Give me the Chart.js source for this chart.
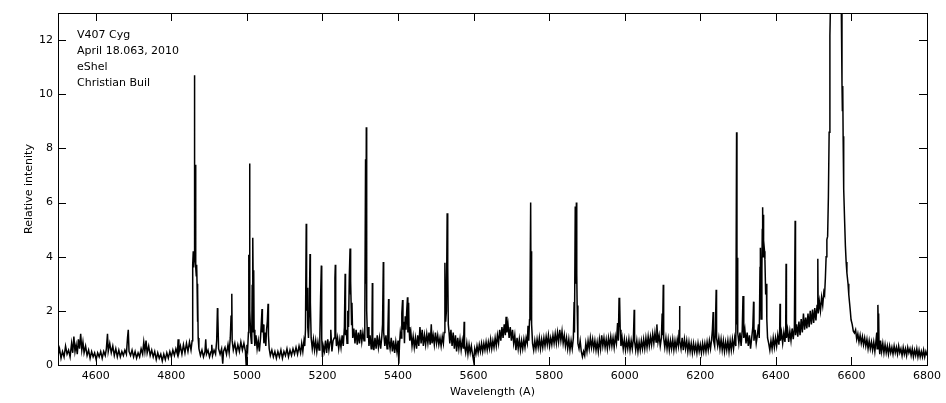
<!DOCTYPE html>
<html>
<head>
<meta charset="utf-8">
<script src="https://cdn.jsdelivr.net/npm/chart.js@4/dist/chart.umd.min.js"></script>
<style>
  html, body { margin: 0; padding: 0; background: #fff; }
  #wrap { width: 946px; height: 403px; position: relative; }
</style>
</head>
<body>
<div id="wrap"><canvas id="spectrum"></canvas></div>
<script>
// wavelength (A), relative intensity
const blueSpectrum = [
  [4500,.35],[4504,.6],[4508,.25],[4512,.5],[4516,.3],[4520,.7],[4524,.4],[4528,.55],[4532,.3],[4536,.8],
  [4539,.45],[4542,1.05],[4545,.5],[4548,.75],[4551,.4],[4554,.95],[4557,.6],[4560,1.15],[4563,.55],[4566,.85],
  [4569,.45],[4573,.7],[4577,.35],[4581,.55],[4585,.25],[4589,.5],[4593,.3],[4597,.45],[4601,.2],[4605,.45],
  [4609,.3],[4613,.5],[4617,.25],[4621,.5],[4625,.35],[4628,.6],[4631,1.15],[4633,.5],[4637,.8],[4641,.45],
  [4645,.7],[4649,.35],[4653,.6],[4657,.3],[4661,.55],[4665,.3],[4669,.5],[4673,.35],[4677,.55],[4681,.4],
  [4684,1.0],[4686,1.3],[4688,.5],[4692,.35],[4696,.55],[4700,.3],[4704,.5],[4708,.25],[4712,.45],[4716,.3],
  [4720,.6],[4724,.4],[4727,.85],[4730,.5],[4733,.9],[4736,.45],[4740,.7],[4744,.35],[4748,.55],[4752,.3],
  [4756,.5],[4760,.2],[4764,.45],[4768,.25],[4772,.4],[4776,.15],[4780,.4],[4784,.2],[4788,.45],[4792,.25],
  [4796,.5],[4800,.3],[4804,.55],[4808,.35],[4812,.6],[4816,.4],[4818,.95],[4820,.45],[4824,.7],[4828,.4],
  [4832,.75],[4836,.45],[4840,.8],[4844,.5],[4848,.85],[4852,.55],[4855,.9],[4856,3.0],[4857,3.7],[4858,4.2],
  [4859,3.6],[4860,4.0],[4861,10.7],[4862,3.8],[4863,4.0],[4864,7.4],[4865,3.6],[4866,3.3],[4867,3.7],[4868,3.0],
  [4869,1.6],[4870,2.8],[4871,1.0],[4873,.6]
];

const greenSpectrum = [
  [4877,.35],[4881,.55],[4885,.3],[4889,.5],[4891,.95],[4893,.4],[4897,.55],[4901,.3],[4905,.5],[4907,.75],
  [4909,.35],[4913,.55],[4917,.4],[4920,.9],[4922,2.1],[4923,1.85],[4925,.6],[4929,.4],[4933,.6],[4936,.05],
  [4938,.5],[4942,.65],[4946,.4],[4950,.75],[4953,.45],[4956,1.0],[4958,1.8],[4960,2.63],[4961,.9],[4964,.55],
  [4968,.8],[4972,.45],[4976,.75],[4980,.5],[4984,.85],[4988,.55],[4992,.8],[4996,.5],[4998,.0],[5000,.75],
  [5002,.6],[5004,1.2],[5005,4.07],[5006,3.0],[5007,7.44],[5008,2.0],[5010,1.1],[5012,.8],[5013,1.37],[5014,2.96],
  [5015,1.2],[5016,4.7],[5017,2.26],[5018,3.5],[5019,1.3],[5021,.7],[5024,1.1],[5027,.6],[5030,.9],[5033,.5],
  [5036,1.0],[5038,1.5],[5040,2.07],[5041,1.2],[5043,1.5],[5045,.8],[5048,1.2],[5050,.7],[5052,1.3],[5054,1.6],
  [5056,2.26],[5057,1.1],[5059,.6],[5062,.35],[5066,.55],[5070,.3],[5074,.5],[5078,.25],[5082,.5],[5086,.3],
  [5090,.55],[5094,.25],[5098,.5],[5102,.35],[5106,.6],[5110,.3],[5114,.55],[5118,.35],[5122,.6],[5126,.4],
  [5130,.65],[5134,.4],[5138,.7],[5142,.45],[5145,.8],[5148,.5],[5151,.9],[5153,.7],[5155,1.3],[5157,5.22],
  [5158,2.0],[5160,2.85],[5161,1.4],[5163,1.0],[5165,1.9],[5167,4.1],[5168,2.3],[5170,1.0],[5173,.6],[5176,.95],
  [5179,.55],[5182,.9],[5185,.5],[5188,.85],[5191,.55],[5193,1.0],[5195,2.5],[5197,3.67],[5198,1.0],[5200,.3],
  [5202,.7],[5205,.5],[5208,.9],[5211,.45],[5214,.95],[5217,.55],[5220,.85],[5222,1.3],[5225,.5],[5228,.9],
  [5231,1.0],[5233,3.2],[5234,3.7],[5235,1.2],[5237,.7],[5240,1.0],[5243,.6],[5246,.95],[5249,.65],[5252,1.1],
  [5255,.7],[5258,1.4],[5260,3.37],[5261,1.1],[5263,1.3],[5265,.8],[5267,2.0],[5269,1.4],[5271,3.26],[5273,4.3],
  [5274,2.6],[5275,3.1],[5277,1.5],[5278,2.3],[5280,1.0],[5283,1.35],[5286,.8],[5289,1.3],[5292,.75],[5295,1.2],
  [5298,.8],[5301,1.3],[5304,.85],[5307,1.2],[5310,.9],[5312,1.5],[5314,7.6],[5315,3.0],[5316,8.78],[5317,2.0],
  [5319,1.0],[5321,1.4],[5323,.7],[5326,1.1],[5329,.6],[5331,1.3],[5332,3.03],[5333,1.0],[5336,.55],[5339,1.0],
  [5342,.6],[5345,1.1],[5348,.65],[5351,1.0],[5354,.6],[5357,1.05],[5359,1.5],[5361,3.8],[5362,1.2],[5365,.7],
  [5368,1.1],[5371,.6],[5373,1.2],[5375,2.44],[5376,.9],[5379,.6],[5382,1.0],[5385,.5],[5388,.9],[5391,.45],
  [5394,.85],[5397,.5]
];

const yellowSpectrum = [
  [5400,.9],[5402,.05],[5404,.8],[5406,1.2],[5408,1.0],[5410,1.9],[5412,2.4],[5413,1.3],[5415,1.6],[5417,.8],
  [5419,1.8],[5421,1.3],[5423,2.0],[5425,2.5],[5426,1.2],[5428,2.3],[5429,1.4],[5431,.9],[5434,1.2],[5437,.7],
  [5440,1.05],[5443,.65],[5446,1.0],[5449,.6],[5452,1.1],[5455,.7],[5458,1.4],[5461,.8],[5464,1.3],[5467,.7],
  [5470,1.1],[5473,.75],[5476,1.15],[5479,.8],[5482,1.2],[5485,.75],[5488,1.5],[5490,.8],[5493,1.1],[5496,.75],
  [5499,1.2],[5502,.8],[5505,1.1],[5508,.75],[5511,1.0],[5514,.7],[5517,1.05],[5520,.8],[5522,1.2],[5524,3.78],
  [5526,1.6],[5528,2.0],[5530,5.6],[5531,3.0],[5532,3.6],[5533,1.5],[5535,1.2],[5537,.8],[5540,1.3],[5543,.7],
  [5546,1.2],[5549,.6],[5552,1.1],[5555,.5],[5558,1.0],[5561,.6],[5564,.95],[5567,.55],[5570,.9],[5573,.6],
  [5575,1.6],[5576,.7],[5579,.45],[5582,.8],[5585,.4],[5588,.75],[5591,.45],[5594,.7],[5597,.4],[5600,.15],
  [5603,.6],[5606,.4],[5609,.7],[5612,.45],[5615,.75],[5618,.5],[5621,.8],[5624,.5],[5627,.8],[5630,.55],
  [5633,.85],[5636,.55],[5639,.85],[5642,.6],[5645,.95],[5648,.6],[5651,.9],[5654,.65],[5657,1.0],[5660,.7],
  [5663,1.1],[5666,.8],[5669,1.3],[5672,.9],[5675,1.4],[5678,1.0],[5681,1.5],[5684,1.1],[5686,1.78],[5688,1.2],
  [5691,1.5],[5694,1.0],[5697,1.4],[5700,.9],[5703,1.3],[5706,.8],[5709,1.1],[5712,.55],[5715,1.0],[5718,.6],
  [5721,.95],[5724,.55],[5727,.9],[5730,.6],[5733,.95],[5736,.65],[5739,1.0],[5742,.8],[5744,1.45],[5746,.9],
  [5748,1.67],[5749,2.0],[5751,6.0],[5752,2.2],[5753,4.2],[5754,1.5],[5756,.8],[5759,.55],[5762,.9],[5765,.6],
  [5768,.95],[5771,.65],[5774,1.0],[5777,.6],[5780,.95],[5783,.65],[5786,1.0],[5789,.7],[5792,1.05],[5795,.75],
  [5798,1.1],[5801,.7],[5804,1.0],[5807,.75],[5810,1.1],[5813,.8],[5816,1.15],[5819,.8],[5822,1.2],[5825,.85],
  [5828,1.3],[5831,.9],[5834,1.25],[5837,.8],[5840,1.1],[5843,.7],[5846,1.0],[5849,.6],[5852,.95],[5855,.55],
  [5858,.9],[5861,.6],[5864,1.0],[5866,2.33],[5867,1.2],[5869,5.85],[5870,3.0],[5872,6.0],[5873,3.37],[5874,2.2],
  [5876,.8],[5879,.6],[5882,.9],[5885,.5],[5888,.3],[5891,.5],[5894,.35],[5897,.8]
];

const orangeSpectrum = [
  [5900,.5],[5903,.9],[5906,.6],[5909,1.0],[5912,.65],[5915,.95],[5918,.6],[5921,.9],[5924,.55],[5927,.85],
  [5930,.5],[5933,.95],[5936,.6],[5939,1.1],[5942,.7],[5945,1.0],[5948,.65],[5951,.95],[5954,.6],[5957,1.0],
  [5960,.7],[5963,1.05],[5966,.7],[5969,1.0],[5972,.65],[5975,1.05],[5978,.8],[5981,1.55],[5983,.9],[5985,2.48],
  [5986,1.4],[5987,2.4],[5988,1.3],[5990,.7],[5993,1.0],[5996,.6],[5999,.95],[6002,.55],[6005,.9],[6008,.6],
  [6011,.95],[6014,.55],[6017,.9],[6020,.6],[6023,1.0],[6025,2.04],[6026,.9],[6029,.55],[6032,.9],[6035,.5],
  [6038,.85],[6041,.55],[6044,.9],[6047,.6],[6050,.95],[6053,.6],[6056,1.0],[6059,.65],[6062,1.05],[6065,.7],
  [6068,1.05],[6071,.75],[6074,1.15],[6077,.8],[6080,1.2],[6083,.85],[6085,1.5],[6088,.85],[6091,1.1],[6094,.7],
  [6097,1.0],[6099,1.9],[6100,1.1],[6102,2.96],[6103,1.0],[6106,.65],[6109,1.0],[6112,.6],[6115,.95],[6118,.55],
  [6121,.9],[6124,.6],[6127,.95],[6130,.55],[6133,.9],[6136,.6],[6139,.95],[6142,.7],[6144,1.3],[6145,2.18],
  [6146,.9],[6149,.6],[6152,1.0],[6155,.55],[6158,.95],[6161,.6],[6164,.9],[6167,.5],[6170,.85],[6173,.5],
  [6176,.8],[6179,.45],[6182,.8],[6185,.5],[6188,.75],[6191,.45],[6194,.8],[6197,.5],[6200,.75],[6203,.45],
  [6206,.8],[6209,.5],[6212,.8],[6215,.5],[6218,.85],[6221,.55],[6224,.9],[6227,.6],[6230,.95],[6232,1.3],
  [6234,1.96],[6235,.9],[6238,.7],[6240,1.4],[6242,2.78],[6243,1.0],[6246,.7],[6249,1.0],[6252,.6],[6255,.95],
  [6258,.55],[6261,.9],[6264,.5],[6267,.85],[6270,.55],[6273,.9],[6276,.5],[6279,.9],[6282,.55],[6285,.95],
  [6288,.6],[6291,1.0],[6294,.7],[6296,8.6],[6297,1.5],[6298,3.96],[6299,1.2]
];

const redSpectrum = [
  [6302,.8],[6305,1.2],[6308,.7],[6311,1.3],[6313,2.55],[6315,1.0],[6318,1.3],[6321,.8],[6324,1.2],[6327,.7],
  [6330,1.1],[6333,.6],[6336,1.0],[6339,1.4],[6341,2.34],[6342,.9],[6345,1.3],[6348,.8],[6351,1.1],[6354,1.5],
  [6356,1.0],[6358,3.6],[6359,4.33],[6361,1.7],[6363,3.5],[6364,5.0],[6365,5.83],[6366,4.0],[6367,5.55],[6368,4.6],
  [6370,4.2],[6371,3.9],[6373,2.6],[6375,3.0],[6376,1.7],[6378,1.0],[6381,.8],[6384,.55],[6387,.9],[6390,.6],
  [6393,1.0],[6396,.65],[6399,1.0],[6402,.7],[6405,1.1],[6408,.75],[6410,1.2],[6411,2.26],[6412,.9],[6415,1.2],
  [6418,.8],[6421,1.2],[6424,.85],[6426,1.3],[6427,3.74],[6428,1.0],[6431,1.3],[6434,.85],[6437,1.25],[6440,.9],
  [6443,1.35],[6446,.95],[6449,1.4],[6451,5.33],[6452,1.1],[6455,1.5],[6458,1.05],[6461,1.6],[6464,1.1],[6467,1.7],
  [6470,1.2],[6473,1.9],[6476,1.3],[6479,1.75],[6482,1.35],[6485,1.9],[6488,1.4],[6491,2.0],[6494,1.5],[6497,2.05],
  [6500,1.55],[6503,2.1],[6506,1.65],[6509,2.2],[6511,3.92],[6512,1.9],[6515,2.35],[6518,2.0],[6521,2.5],[6524,2.2],
  [6527,2.7],[6529,2.6],[6531,3.2],[6533,4.0],[6535,4.63],[6537,4.75],[6539,6.2],[6541,8.6],[6543,12.15],[6546,14.5],
  [6552,19],[6562,22],[6570,16],[6573,13.5],[6575,10.4],[6576,9.4],[6577,10.3],[6578,8.45],[6579,8.3],[6580,6.5],
  [6582,5.3],[6584,4.4],[6586,3.8],[6588,3.4],[6591,3.0],[6593,2.6],[6595,2.3],[6597,2.0],[6599,1.67],[6602,1.5],
  [6605,1.25],[6608,1.18],[6611,1.3],[6614,.95],[6617,1.15],[6620,.85],[6623,1.1],[6626,.8],[6629,1.05],[6632,.75],
  [6635,1.0],[6638,.7],[6641,.95],[6644,.6],[6647,.9],[6650,.6],[6653,.85],[6656,.55],[6659,.85],[6662,.5],
  [6665,.9],[6667,1.2],[6668,.6],[6670,2.22],[6671,1.5],[6672,1.9],[6673,.8],[6675,.4],[6677,.9],[6680,.5],
  [6683,.8],[6686,.45],[6689,.75],[6692,.45],[6695,.7],[6698,.4],[6701,.7],[6704,.45],[6707,.65],[6710,.4],
  [6713,.7],[6716,.45],[6719,.65],[6722,.4],[6725,.7],[6728,.45],[6731,.6],[6734,.35],[6737,.65],[6740,.4],
  [6743,.6],[6746,.35],[6749,.65],[6752,.45],[6755,.6],[6758,.35],[6761,.6],[6764,.3],[6767,.55],[6770,.35],
  [6773,.6],[6776,.3],[6779,.55],[6782,.3],[6785,.5],[6788,.3],[6791,.55],[6794,.3],[6797,.5],[6800,.35]
];

const xTicks = [4600, 4800, 5000, 5200, 5400, 5600, 5800, 6000, 6200, 6400, 6600, 6800];
const yTicks = [0, 2, 4, 6, 8, 10, 12];
const noteLines = ['V407 Cyg', 'April 18.063, 2010', 'eShel', 'Christian Buil'];

const FONT = { family: '"DejaVu Sans", sans-serif', size: 11 };

// MATLAB 스타일 박스 + 안쪽 눈금 + 주석
const boxPlugin = {
  id: 'boxPlugin',
  afterDraw(chart) {
    const { ctx, chartArea: a, scales: { x, y } } = chart;
    const tick = 8;
    ctx.save();
    ctx.strokeStyle = '#000';
    ctx.lineWidth = 1;
    ctx.strokeRect(a.left + 0.5, a.top + 0.5, a.right - a.left, a.bottom - a.top);
    ctx.beginPath();
    xTicks.forEach(v => {
      const px = Math.round(x.getPixelForValue(v)) + 0.5;
      ctx.moveTo(px, a.bottom); ctx.lineTo(px, a.bottom - tick);
      ctx.moveTo(px, a.top); ctx.lineTo(px, a.top + tick);
    });
    yTicks.forEach(v => {
      const py = Math.round(y.getPixelForValue(v)) + 0.5;
      ctx.moveTo(a.left, py); ctx.lineTo(a.left + tick, py);
      ctx.moveTo(a.right, py); ctx.lineTo(a.right - tick, py);
    });
    ctx.stroke();

    ctx.fillStyle = '#000';
    ctx.font = '11px "DejaVu Sans", sans-serif';
    ctx.textBaseline = 'alphabetic';
    noteLines.forEach((t, i) => ctx.fillText(t, a.left + 19, a.top + 25 + i * 16));
    ctx.restore();
  }
};

const points = [blueSpectrum, greenSpectrum, yellowSpectrum, orangeSpectrum, redSpectrum]
  .flat()
  .map(([w, v]) => ({ x: w, y: v }));

new Chart(document.getElementById('spectrum'), {
  type: 'line',
  data: {
    datasets: [{
      data: points,
      borderColor: '#000',
      borderWidth: 1.5,
      pointRadius: 0,
      tension: 0,
      fill: false
    }]
  },
  options: {
    responsive: true,
    maintainAspectRatio: false,
    animation: false,
    parsing: false,
    layout: { padding: { top: 13, right: 18, left: 0, bottom: 0 } },
    plugins: { legend: { display: false }, tooltip: { enabled: false } },
    scales: {
      x: {
        type: 'linear',
        min: 4500,
        max: 6800,
        afterBuildTicks: s => { s.ticks = xTicks.map(v => ({ value: v })); },
        afterFit: s => { s.height = 38; },
        grid: { display: false, drawTicks: false },
        border: { display: false },
        ticks: { color: '#000', font: FONT, padding: 5, maxRotation: 0, autoSkip: false, callback: v => String(v) },
        title: { display: true, text: 'Wavelength (A)', color: '#000', font: FONT, padding: { top: 0, bottom: 4 } }
      },
      y: {
        type: 'linear',
        min: 0,
        max: 13,
        afterBuildTicks: s => { s.ticks = yTicks.map(v => ({ value: v })); },
        afterFit: s => { s.width = 58; },
        grid: { display: false, drawTicks: false },
        border: { display: false },
        ticks: { color: '#000', font: FONT, padding: 5, autoSkip: false, callback: v => String(v) },
        title: { display: true, text: 'Relative intenity', color: '#000', font: FONT, padding: { top: 23, bottom: 0 } }
      }
    }
  },
  plugins: [boxPlugin]
});
</script>
</body>
</html>
